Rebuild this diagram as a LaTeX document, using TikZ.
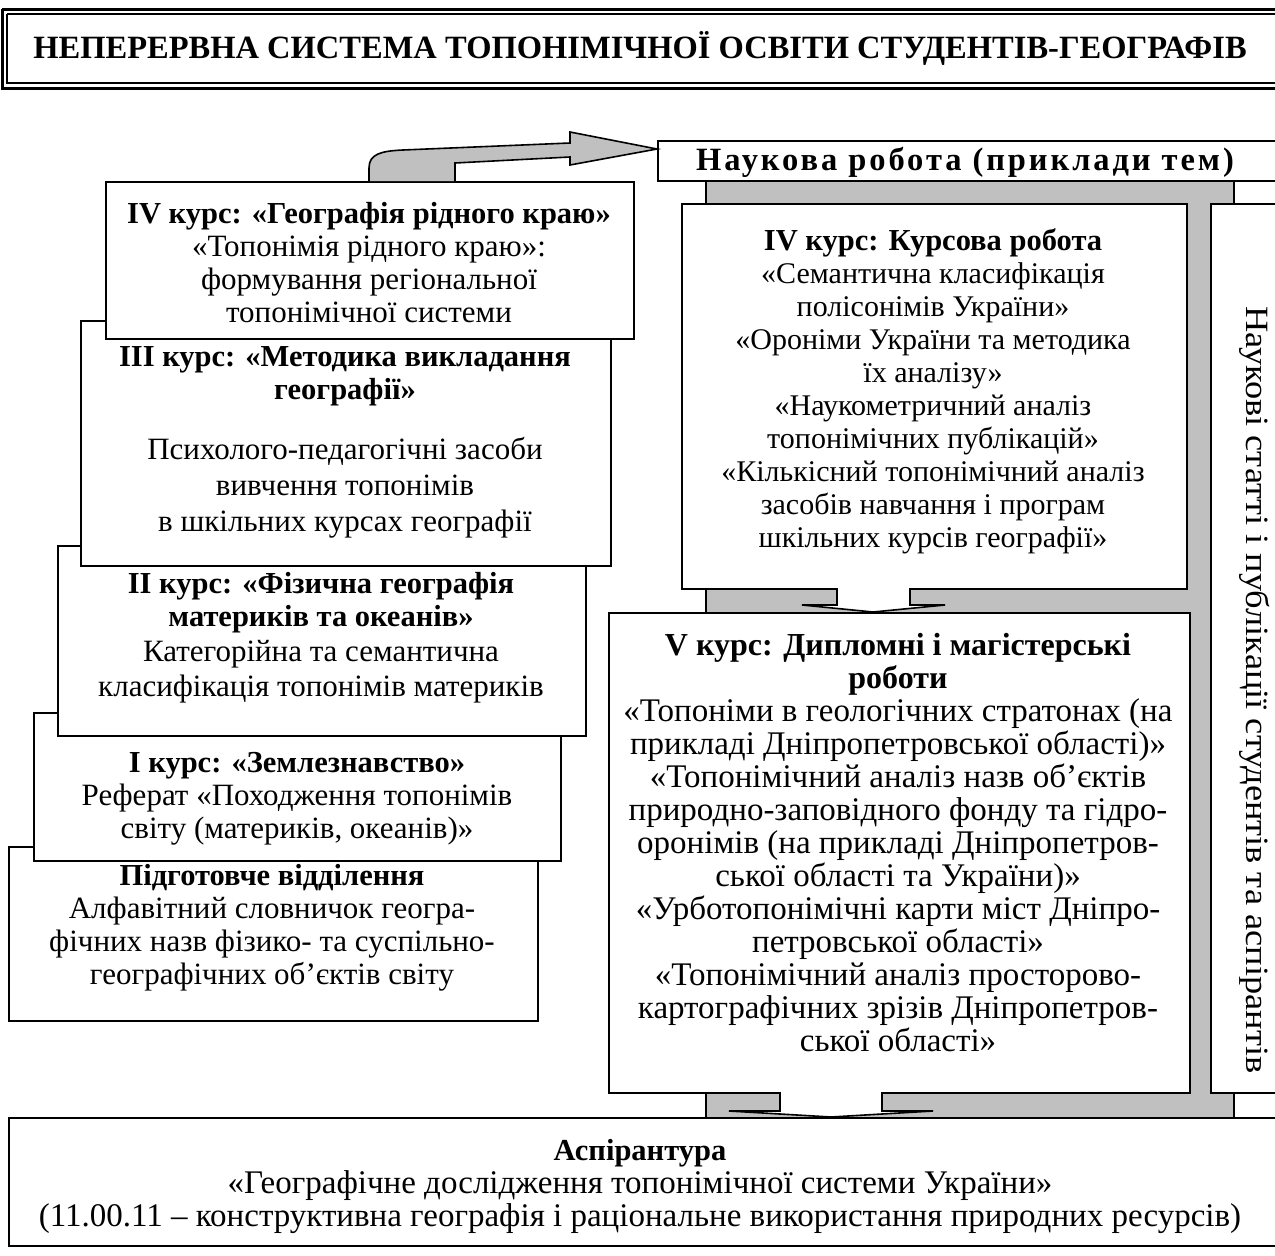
\documentclass[tikz,border=0pt]{standalone}
\usepackage{fontspec}
\setmainfont{Liberation Serif}
\newfontfamily\spacedfont[LetterSpace=9]{Liberation Serif}
\definecolor{bandgrey}{HTML}{C0C0C0}
\newcommand\hd[1]{{\fontsize{30.5}{33}\selectfont\bfseries #1}}
\tikzset{
  box/.style={draw, line width=2pt, fill=white, anchor=north west, inner sep=0pt},
  txt/.style={anchor=north, inner sep=0pt, align=center, font=\fontsize{#1}{33}\selectfont},
  txt/.default=31,
  blockarrow/.style={draw, line width=1.6pt, line join=miter},
}
\begin{document}
\begin{tikzpicture}[x=1pt,y=-1pt]
\useasboundingbox (0,0) rectangle (1275,1256);
% title frame
\draw[line width=3pt] (2,9) -- (1290,9);
\draw[line width=3pt] (2,9) -- (2,88) -- (1290,88);
\draw[line width=1.2pt] (7,14) -- (1290,14);
\draw[line width=1.2pt] (7,14) -- (7,83) -- (1290,83);
\node[inner sep=0pt, font=\fontsize{32.5}{33}\selectfont\bfseries] (title) at (640,48) {НЕПЕРЕРВНА СИСТЕМА ТОПОНІМІЧНОЇ ОСВІТИ СТУДЕНТІВ-ГЕОГРАФІВ};

% grey band
\node[box, fill=bandgrey, minimum width=528pt, minimum height=937pt] (band) at (705,180) {};

% science box
\node[box, minimum width=640pt, minimum height=40pt] (sci) at (657,140) {};
\node[txt, font=\fontsize{32.5}{33}\selectfont\spacedfont\bfseries] (scit) at (965,147) {\strut Наукова робота (приклади тем)};

% left staircase
\node[box, minimum width=529pt, minimum height=174pt] (b0) at (8,846) {};
\node[txt] (t0) at (272,862) {\strut\hd{Підготовче відділення}\\Алфавітний словничок геогра-\\фічних назв фізико- та суспільно-\\географічних об’єктів світу};

\node[box, minimum width=527pt, minimum height=148pt] (b1) at (33,712) {};
\node[txt] (t1) at (297,749) {\strut\hd{I курс: «Землезнавство»}\\Реферат «Походження топонімів\\світу (материків, океанів)»};

\node[box, minimum width=528pt, minimum height=190pt] (b2) at (57,545) {};
\node[txt] (t2) at (321,570) {\strut\hd{II курс: «Фізична географія}\\\hd{материків та океанів»}\\[2pt]Категорійна та семантична\\[2pt]класифікація топонімів материків};

\node[box, minimum width=530pt, minimum height=245pt] (b3) at (80,320) {};
\node[txt] (t3) at (345,343) {\strut\hd{III курс: «Методика викладання}\\\hd{географії»}\\[27pt]Психолого-педагогічні засоби\\[3pt]вивчення топонімів\\[3pt]в шкільних курсах географії};

\node[box, minimum width=528pt, minimum height=157pt] (b4) at (105,181) {};
\node[txt] (t4) at (369,200) {\strut\hd{IV курс: «Географія рідного краю»}\\«Топонімія рідного краю»:\\формування регіональної\\топонімічної системи};

% right column
\node[box, minimum width=505pt, minimum height=385pt] (kr) at (681,203) {};
\node[txt=30] (krt) at (933,227) {\strut\hd{IV курс: Курсова робота}\\«Семантична класифікація\\полісонімів України»\\«Ороніми України та методика\\їх аналізу»\\«Наукометричний аналіз\\топонімічних публікацій»\\«Кількісний топонімічний аналіз\\засобів навчання і програм\\шкільних курсів географії»};

\node[box, minimum width=581pt, minimum height=480pt] (dip) at (608,612) {};
\node[txt=33] (dipt) at (898,632) {\strut{\fontsize{32}{33}\selectfont\bfseries V курс: Дипломні і магістерські}\\{\fontsize{32}{33}\selectfont\bfseries роботи}\\«Топоніми в геологічних стратонах (на\\прикладі Дніпропетровської області)»\\«Топонімічний аналіз назв об’єктів\\природно-заповідного фонду та гідро-\\оронімів (на прикладі Дніпропетров-\\ської області та України)»\\«Урботопонімічні карти міст Дніпро-\\петровської області»\\«Топонімічний аналіз просторово-\\картографічних зрізів Дніпропетров-\\ської області»};

\node[box, minimum width=90pt, minimum height=889pt] (pub) at (1210,203) {};
\node[inner sep=0pt, rotate=-90, font=\fontsize{32.5}{36}\selectfont] (pubt) at (1255,690) {\scalebox{1.12}[1]{Наукові статті і публікації студентів та аспірантів}};

% white down arrows
\draw[blockarrow, fill=white] (837,588) -- (837,605) -- (802,605) -- (873,612) -- (945,605) -- (910,605) -- (910,588);
\draw[blockarrow, fill=white] (780,1092) -- (780,1111) -- (729,1111) -- (831,1117) -- (933,1111) -- (882,1111) -- (882,1092);

% curved arrow from IV course to research
\draw[blockarrow, fill=bandgrey] (369,181) -- (369,168) .. controls (369,154) and (381,151) .. (403,150) -- (570,143) -- (570,132) -- (657,149) -- (570,165) -- (570,157) -- (455,163) -- (455,181);

% postgraduate
\node[box, minimum width=1282pt, minimum height=128pt] (asp) at (8,1117) {};
\node[txt=33] (aspt) at (640,1137) {\strut\hd{Аспірантура}\\«Географічне дослідження топонімічної системи України»\\(11.00.11 – конструктивна географія і раціональне використання природних ресурсів)};
\end{tikzpicture}
\end{document}
